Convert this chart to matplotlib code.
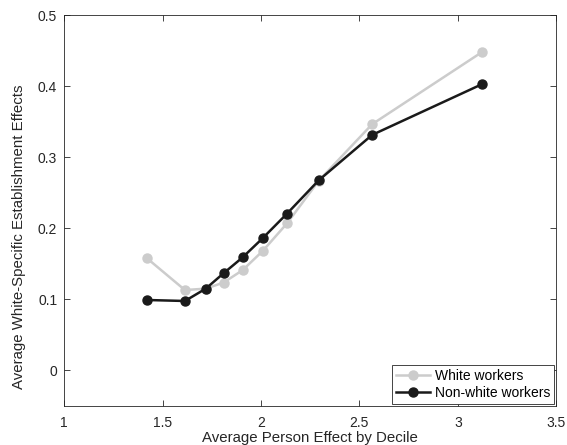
import numpy as np
import matplotlib
matplotlib.use('Agg')
import matplotlib.pyplot as plt

matplotlib.rcParams['font.family'] = 'Liberation Sans'
matplotlib.rcParams.update({'font.size': 10})

# decile averages of person effects
person_effect = [1.42, 1.614, 1.72, 1.81, 1.907, 2.009, 2.133, 2.294, 2.565, 3.123]
# white-specific establishment effects
white = [0.158, 0.113, 0.115, 0.1235, 0.141, 0.168, 0.207, 0.267, 0.3465, 0.448]
nonwhite = [0.099, 0.0976, 0.115, 0.1366, 0.159, 0.186, 0.2207, 0.2676, 0.3314, 0.4028]

axcol = '#262626'
fig = plt.figure(figsize=(5.67, 4.45), dpi=100)
ax = fig.add_axes([0.113, 0.088, 0.868, 0.878])

ax.plot(person_effect, white, 'o-', c='#cccccc', mec='#cccccc', linewidth=1.8, markersize=6.5, label='White workers')
ax.plot(person_effect, nonwhite, 'o-', c='#1a1a1a', mec='#1a1a1a', linewidth=1.8, markersize=6.5, label='Non-white workers')

ax.set_xlim(1, 3.5)
ax.set_ylim(-0.05, 0.5)
ax.set_xticks([1, 1.5, 2, 2.5, 3, 3.5])
ax.set_xticklabels(['1', '1.5', '2', '2.5', '3', '3.5'])
ax.set_yticks([0, 0.1, 0.2, 0.3, 0.4, 0.5])
ax.set_yticklabels(['0', '0.1', '0.2', '0.3', '0.4', '0.5'])
ax.tick_params(direction='in', length=4, width=0.6, colors=axcol, top=True, right=True, labelcolor=axcol)
ax.tick_params(axis='x', pad=7.5)
ax.tick_params(axis='y', pad=5)
for s in ax.spines.values():
    s.set_color(axcol)
    s.set_linewidth(0.6)

ax.set_xlabel('Average Person Effect by Decile', color=axcol, fontsize=10.8)
ax.set_ylabel('Average White-Specific Establishment Effects', color=axcol, fontsize=10.8)
ax.xaxis.set_label_coords(0.5, -0.064)
ax.yaxis.set_label_coords(-0.077, 0.432)

leg = ax.legend(loc='lower right', borderaxespad=0.15, fancybox=False, edgecolor=axcol, framealpha=1,
                handlelength=2.5, borderpad=0.3, labelspacing=0.2, handletextpad=0.3)
leg.get_frame().set_linewidth(0.6)

plt.savefig('out.png', dpi=100)
